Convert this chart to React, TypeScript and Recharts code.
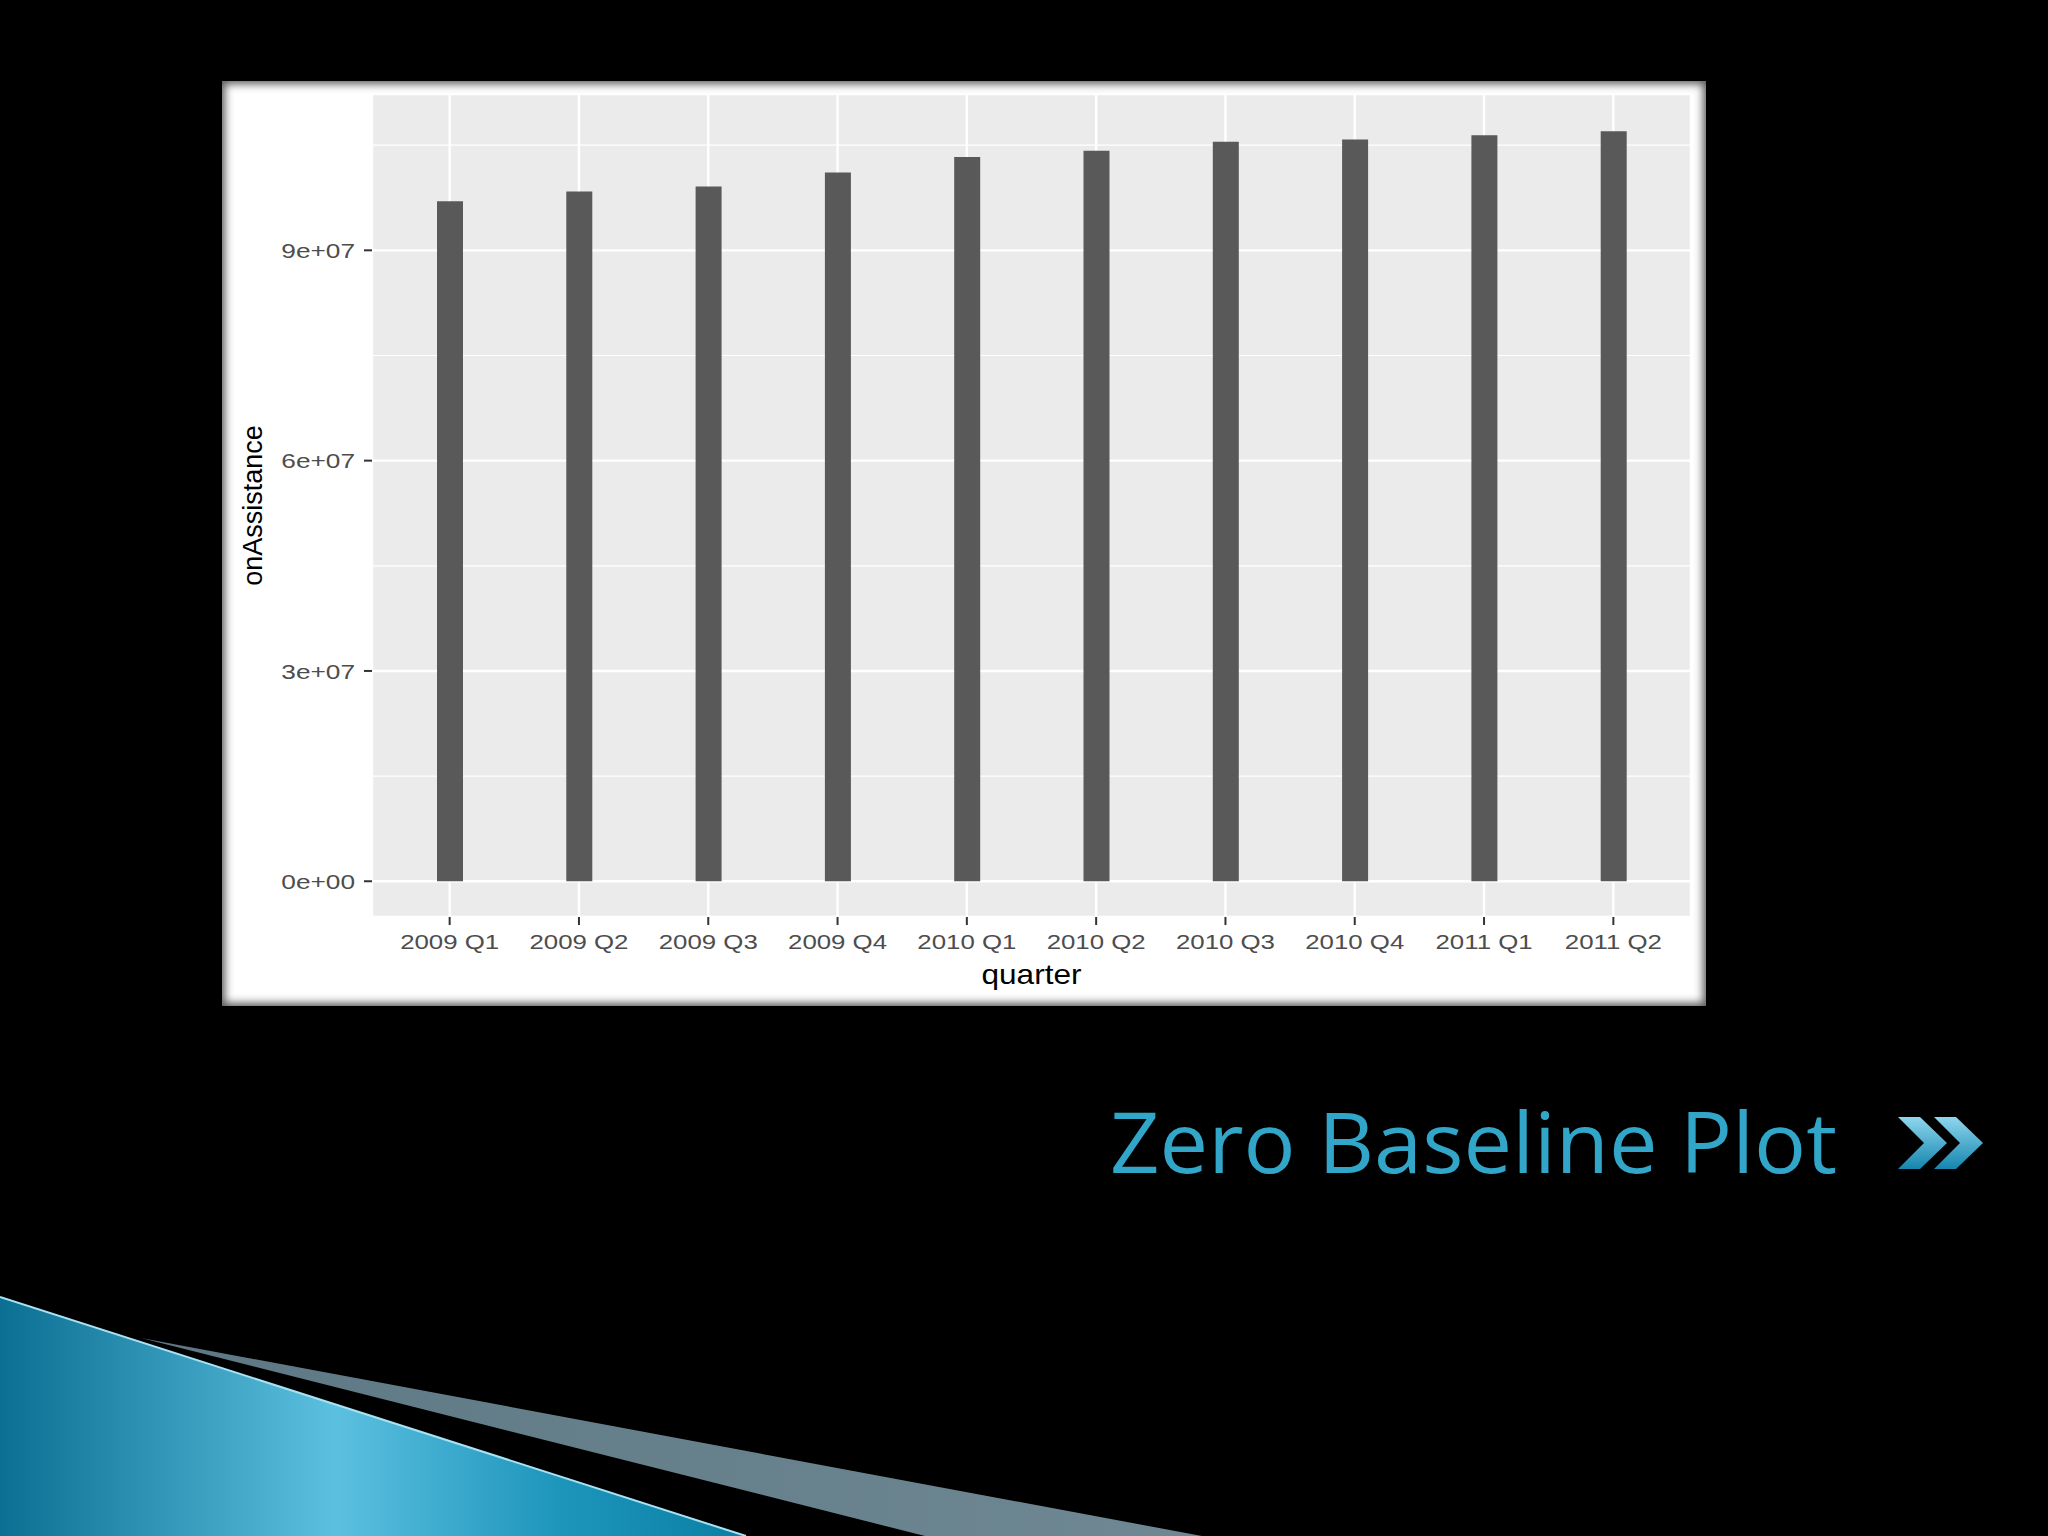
import { Bar, BarChart, CartesianGrid, XAxis, YAxis } from "recharts";

const quarters = [
  "2009 Q1",
  "2009 Q2",
  "2009 Q3",
  "2009 Q4",
  "2010 Q1",
  "2010 Q2",
  "2010 Q3",
  "2010 Q4",
  "2011 Q1",
  "2011 Q2",
];
const onAssistance = [
  97.0e6, 98.4e6, 99.1e6, 101.1e6, 103.3e6, 104.2e6, 105.5e6, 105.8e6, 106.4e6, 107.0e6,
];
const yTicks = [0, 3e7, 6e7, 9e7];
const yTickLabels = ["0e+00", "3e+07", "6e+07", "9e+07"];
const yMinorTicks = [1.5e7, 4.5e7, 7.5e7, 10.5e7];
const yDomain = [-5.1e6, 112.3e6];

const FONT = "'Liberation Sans', Arial, sans-serif";

function XTick(props: any) {
  const { x, y, payload } = props;
  return (
    <g transform={`translate(${x},${y})`}>
      <text
        transform="scale(1.23,1)"
        textAnchor="middle"
        dy="0.71em"
        fontFamily={FONT}
        fontSize={21}
        fill="#4d4d4d"
      >
        {payload.value}
      </text>
    </g>
  );
}

function YTick(props: any) {
  const { x, y, payload } = props;
  const i = yTicks.indexOf(payload.value);
  return (
    <g transform={`translate(${x},${y})`}>
      <text
        transform="scale(1.25,1)"
        textAnchor="end"
        dy="0.36em"
        fontFamily={FONT}
        fontSize={21}
        fill="#4d4d4d"
      >
        {i >= 0 ? yTickLabels[i] : ""}
      </text>
    </g>
  );
}

export default function App() {
  const data = quarters.map((q, i) => ({ quarter: q, onAssistance: onAssistance[i] }));

  return (
    <div
      style={{
        position: "absolute",
        left: 0,
        top: 0,
        width: 2048,
        height: 1536,
        background: "#000",
        overflow: "hidden",
      }}
    >
      {/* slide decoration */}
      <svg width={2048} height={1536} style={{ position: "absolute", left: 0, top: 0 }}>
        <defs>
          <linearGradient id="swoosh" x1="0" y1="0" x2="1" y2="0">
            <stop offset="0" stopColor="#0a6f92" />
            <stop offset="0.45" stopColor="#5cc0e0" />
            <stop offset="0.75" stopColor="#1d95bb" />
            <stop offset="1" stopColor="#0b7fa4" />
          </linearGradient>
          <linearGradient id="stripe" x1="0" y1="0" x2="1" y2="0">
            <stop offset="0" stopColor="#5d7884" />
            <stop offset="1" stopColor="#6f8893" />
          </linearGradient>
          <linearGradient id="chev" x1="0" y1="0" x2="0" y2="1">
            <stop offset="0" stopColor="#8fd6ef" />
            <stop offset="1" stopColor="#1586ae" />
          </linearGradient>
        </defs>
        <polygon points="0,1297 746,1536 0,1536" fill="url(#swoosh)" />
        <line x1={0} y1={1297} x2={746} y2={1536} stroke="#a8e2f3" strokeWidth={2} />
        <polygon points="141,1338 1202,1536 925,1536" fill="url(#stripe)" />
        <text
          x={1110}
          y={1173}
          fontFamily="'Open Sans', sans-serif"
          fontSize={85}
          fill="#31a6c9"
          textLength={727}
          lengthAdjust="spacingAndGlyphs"
        >
          Zero Baseline Plot
        </text>
        <polygon
          points="1898,1117 1920,1117 1947,1143 1920,1169 1898,1169 1924,1143"
          fill="url(#chev)"
        />
        <polygon
          points="1934,1117 1956,1117 1983,1143 1956,1169 1934,1169 1960,1143"
          fill="url(#chev)"
        />
      </svg>

      <div
        style={{
          position: "absolute",
          left: 222,
          top: 81,
          width: 1484,
          height: 925,
          background: "#fff",
        }}
      >
        <BarChart
          width={1484}
          height={925}
          data={data}
          margin={{ top: 13, right: 15, bottom: 0, left: 0 }}
          barCategoryGap={0}
        >
          <CartesianGrid fill="#ebebeb" fillOpacity={1} stroke="#ffffff" strokeWidth={2.4} />
          <CartesianGrid
            vertical={false}
            horizontalValues={yMinorTicks}
            stroke="#ffffff"
            strokeWidth={1.2}
          />
          <XAxis
            dataKey="quarter"
            height={89}
            padding={{ left: 13, right: 13 }}
            axisLine={false}
            tickSize={8}
            tickMargin={9}
            tickLine={{ stroke: "#333333", strokeWidth: 2 }}
            tick={(p: any) => <XTick {...p} />}
            interval={0}
            label={(p: any) => {
              const vb = p.viewBox;
              return (
                <g transform={`translate(${vb.x + vb.width / 2},${vb.y + 67})`}>
                  <text
                    transform="scale(1.17,1)"
                    textAnchor="middle"
                    fontFamily={FONT}
                    fontSize={27}
                    fill="#000"
                  >
                    quarter
                  </text>
                </g>
              );
            }}
          />
          <YAxis
            type="number"
            width={150}
            domain={yDomain}
            allowDataOverflow
            ticks={yTicks}
            axisLine={false}
            tickSize={8}
            tickMargin={9}
            tickLine={{ stroke: "#333333", strokeWidth: 2 }}
            tick={(p: any) => <YTick {...p} />}
            label={(p: any) => {
              const vb = p.viewBox;
              return (
                <text
                  transform={`translate(${vb.x + 40},${vb.y + vb.height / 2}) rotate(-90)`}
                  textAnchor="middle"
                  fontFamily={FONT}
                  fontSize={27}
                  fill="#000"
                >
                  onAssistance
                </text>
              );
            }}
          />
          <Bar dataKey="onAssistance" fill="#595959" barSize={26} isAnimationActive={false} />
        </BarChart>
        <div
          style={{
            position: "absolute",
            inset: 0,
            boxShadow: "inset 0 0 9px 3px rgba(60,60,60,0.85)",
            pointerEvents: "none",
          }}
        />
      </div>
    </div>
  );
}
